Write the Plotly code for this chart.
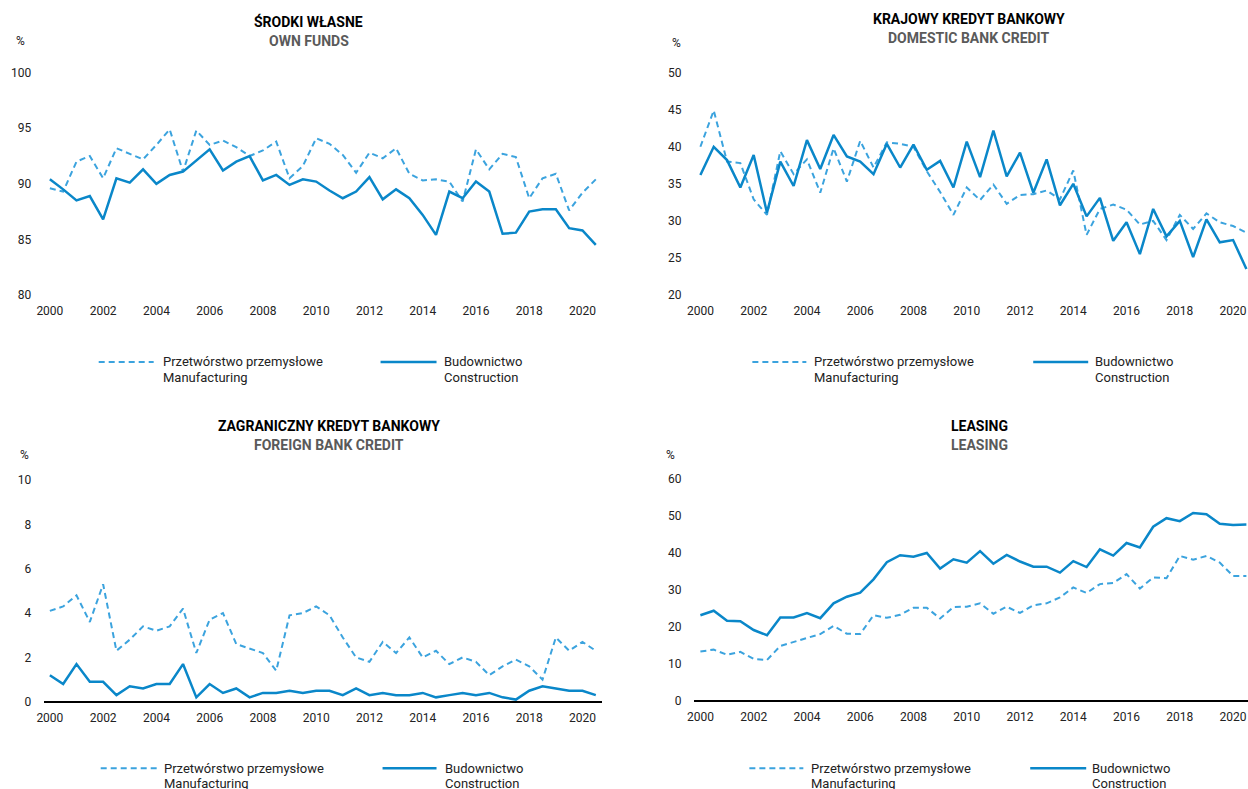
import plotly.graph_objects as go

# Half-year observations, 2000H1 .. 2020H2
periods = [2000 + 0.5 * i for i in range(42)]
year_ticks = list(range(2000, 2021, 2))
year_labels = [str(y) for y in year_ticks]

# Own funds (%)
own_manuf = [89.6, 89.3, 92.0, 92.5, 90.5, 93.2, 92.7, 92.2, 93.5, 94.9,
             91.1, 94.8, 93.5, 93.9, 93.3, 92.5, 93.0, 93.8, 90.5, 91.6,
             94.1, 93.6, 92.6, 91.0, 92.8, 92.3, 93.2, 90.9, 90.3, 90.4,
             90.2, 88.4, 93.1, 91.3, 92.7, 92.4, 88.7, 90.5, 90.9, 87.6,
             89.2, 90.4]
own_constr = [90.4, 89.5, 88.5, 88.9, 86.8, 90.5, 90.1, 91.3, 90.0, 90.8,
              91.1, 92.1, 93.1, 91.2, 92.0, 92.5, 90.3, 90.8, 89.9, 90.4,
              90.2, 89.4, 88.7, 89.3, 90.6, 88.6, 89.5, 88.7, 87.2, 85.4,
              89.3, 88.7, 90.2, 89.3, 85.5, 85.6, 87.5, 87.7, 87.7, 86.0,
              85.8, 84.5]

# Domestic bank credit (%)
dom_manuf = [40.0, 44.9, 38.0, 37.8, 32.9, 30.8, 39.4, 36.3, 38.3, 33.8,
             39.8, 35.3, 40.8, 37.2, 40.6, 40.4, 40.0, 36.7, 33.9, 30.8,
             34.5, 32.8, 34.9, 32.3, 33.5, 33.6, 34.1, 32.9, 36.8, 28.1,
             31.6, 32.2, 31.5, 29.5, 30.0, 27.4, 30.8, 28.9, 31.0, 29.8,
             29.3, 28.4]
dom_constr = [36.2, 40.0, 38.2, 34.5, 38.9, 31.1, 38.0, 34.7, 40.9, 37.0,
              41.6, 38.7, 38.0, 36.3, 40.4, 37.2, 40.3, 36.9, 38.1, 34.5,
              40.7, 35.9, 42.2, 36.0, 39.2, 33.8, 38.3, 32.1, 35.0, 30.6,
              33.1, 27.3, 29.8, 25.5, 31.6, 27.9, 30.0, 25.1, 30.2, 27.1,
              27.4, 23.5]

# Foreign bank credit (%)
for_manuf = [4.1, 4.3, 4.8, 3.6, 5.3, 2.3, 2.8, 3.4, 3.2, 3.4,
             4.2, 2.2, 3.7, 4.0, 2.6, 2.4, 2.2, 1.4, 3.9, 4.0,
             4.3, 3.9, 2.9, 2.0, 1.8, 2.7, 2.2, 2.9, 2.0, 2.3,
             1.7, 2.0, 1.8, 1.2, 1.6, 1.9, 1.6, 1.0, 2.9, 2.3,
             2.7, 2.3]
for_constr = [1.2, 0.8, 1.7, 0.9, 0.9, 0.3, 0.7, 0.6, 0.8, 0.8,
              1.7, 0.2, 0.8, 0.4, 0.6, 0.2, 0.4, 0.4, 0.5, 0.4,
              0.5, 0.5, 0.3, 0.6, 0.3, 0.4, 0.3, 0.3, 0.4, 0.2,
              0.3, 0.4, 0.3, 0.4, 0.2, 0.1, 0.5, 0.7, 0.6, 0.5,
              0.5, 0.3]

# Leasing (%)
lea_manuf = [13.4, 13.9, 12.5, 13.3, 11.4, 11.1, 14.9, 16.0, 16.9, 18.1,
             20.3, 18.2, 18.1, 23.2, 22.5, 23.3, 25.2, 25.2, 22.3, 25.4,
             25.5, 26.4, 23.6, 25.5, 23.8, 25.9, 26.4, 28.0, 30.7, 29.2,
             31.6, 31.9, 34.3, 30.4, 33.4, 33.2, 39.2, 38.2, 39.2, 37.4,
             33.8, 33.8]
lea_constr = [23.2, 24.4, 21.7, 21.6, 19.2, 17.8, 22.6, 22.6, 23.8, 22.4,
              26.4, 28.2, 29.3, 32.9, 37.5, 39.4, 39.0, 40.0, 35.8, 38.3,
              37.4, 40.5, 37.1, 39.5, 37.7, 36.3, 36.3, 34.7, 37.8, 36.2,
              41.0, 39.3, 42.7, 41.5, 47.1, 49.4, 48.6, 50.8, 50.5, 47.9,
              47.6, 47.7]

titles_pl = ["ŚRODKI WŁASNE", "KRAJOWY KREDYT BANKOWY",
             "ZAGRANICZNY KREDYT BANKOWY", "LEASING"]
titles_en = ["OWN FUNDS", "DOMESTIC BANK CREDIT",
             "FOREIGN BANK CREDIT", "LEASING"]
series_names = [("Przetwórstwo przemysłowe", "Manufacturing"),
                ("Budownictwo", "Construction")]
y_ranges = [(80, 100), (20, 50), (0, 10), (0, 60)]
y_dticks = [5, 5, 2, 10]

W, H = 1248, 789
FONT = "Roboto"
C_SOLID = "#0a87c9"
C_DASH = "#3ba3de"
DASH = "6px,4px"

# layout grid: positions below are given on a design grid that maps
# onto the page with a small offset and scale
GX0, GSX = 6.25, 0.9949
GY0, GSY = 6.3, 0.9817


def px(x):
    return min(1.0, max(0.0, ((x - GX0) / GSX) / W))


def py(y):
    return 1 - ((y - GY0) / GSY) / H


# panel geometry on the design grid: (left, right, top, bottom)
panels = [
    (43, 602, 72, 294),
    (693.5, 1248, 72, 294),
    (43, 602, 479, 700.7),
    (693.5, 1248, 478, 700),
]
x_ranges = [(1999.77, 2020.75), (1999.756, 2020.56),
            (1999.77, 2020.75), (1999.756, 2020.56)]
data = [(own_manuf, own_constr), (dom_manuf, dom_constr),
        (for_manuf, for_constr), (lea_manuf, lea_constr)]

fig = go.Figure()
layout = dict(
    width=W, height=H, margin=dict(l=0, r=0, t=0, b=0),
    paper_bgcolor="white", plot_bgcolor="white",
    showlegend=False, font=dict(family=FONT, size=12, color="#222"),
)
annotations = []
shapes = []

for i, ((l, r, t, b), (manuf, constr)) in enumerate(zip(panels, data)):
    n = "" if i == 0 else str(i + 1)
    xa, ya = "x" + n, "y" + n
    fig.add_trace(go.Scatter(x=periods, y=manuf, mode="lines", xaxis=xa, yaxis=ya,
                             line=dict(color=C_DASH, width=2, dash=DASH),
                             name=series_names[0][1]))
    fig.add_trace(go.Scatter(x=periods, y=constr, mode="lines", xaxis=xa, yaxis=ya,
                             line=dict(color=C_SOLID, width=2.5),
                             name=series_names[1][1]))
    zero = i >= 2
    layout["xaxis" + n] = dict(
        domain=[px(l), px(r)], range=list(x_ranges[i]), anchor=ya,
        tickvals=year_ticks, ticktext=year_labels, showgrid=False,
        zeroline=False, showline=False, ticks="outside", ticklen=5,
        tickcolor="rgba(0,0,0,0)", tickfont=dict(size=12, color="#222"),
    )
    layout["yaxis" + n] = dict(
        domain=[py(b), py(t)], range=list(y_ranges[i]), anchor=xa,
        dtick=y_dticks[i], showgrid=False, showline=False,
        zeroline=zero, zerolinecolor="#000", zerolinewidth=2,
        ticks="outside", ticklen=9, tickcolor="rgba(0,0,0,0)",
        tickfont=dict(size=12, color="#222"),
    )

# titles, unit labels and hand-placed legends
title_pos = [(308, 21, 40), (969, 18, 37), (328, 425, 444), (979, 425, 444)]
pct_pos = [(20, 40), (676, 42), (24, 454), (670, 454)]
legend_pos = [
    (361, 98, 153, 161, 380, 436, 442),
    (361, 752, 806, 813, 1033, 1088, 1094),
    (767, 100, 156, 162, 382, 436, 443),
    (767, 749, 803, 810, 1030, 1086, 1091),
]

for i in range(4):
    cx, y1, y2 = title_pos[i]
    annotations.append(dict(x=px(cx), y=py(y1), xref="paper", yref="paper",
                            text="<b>" + titles_pl[i] + "</b>", showarrow=False,
                            font=dict(size=14, color="#000", family=FONT),
                            xanchor="center", yanchor="middle"))
    annotations.append(dict(x=px(cx), y=py(y2), xref="paper", yref="paper",
                            text="<b>" + titles_en[i] + "</b>", showarrow=False,
                            font=dict(size=14, color="#5a5a5a", family=FONT),
                            xanchor="center", yanchor="middle"))
    qx, qy = pct_pos[i]
    annotations.append(dict(x=px(qx), y=py(qy), xref="paper", yref="paper",
                            text="%", showarrow=False,
                            font=dict(size=12, color="#222", family=FONT),
                            xanchor="center", yanchor="middle"))

    ly, d0, d1, dt, s0, s1, st = legend_pos[i]
    shapes.append(dict(type="line", xref="paper", yref="paper",
                       x0=px(d0), x1=px(d1), y0=py(ly), y1=py(ly),
                       line=dict(color=C_DASH, width=2, dash=DASH)))
    shapes.append(dict(type="line", xref="paper", yref="paper",
                       x0=px(s0), x1=px(s1), y0=py(ly), y1=py(ly),
                       line=dict(color=C_SOLID, width=2.5)))
    for (tx, (pl, en)) in zip((dt, st), series_names):
        for k, txt in enumerate((pl, en)):
            annotations.append(dict(x=px(tx), y=py(ly + 15.5 * k), xref="paper",
                                    yref="paper", text=txt, showarrow=False,
                                    font=dict(size=13, color="#222", family=FONT),
                                    xanchor="left", yanchor="middle",
                                    borderpad=0))

layout["annotations"] = annotations
layout["shapes"] = shapes
fig.update_layout(**layout)
fig.write_html("out.html")
